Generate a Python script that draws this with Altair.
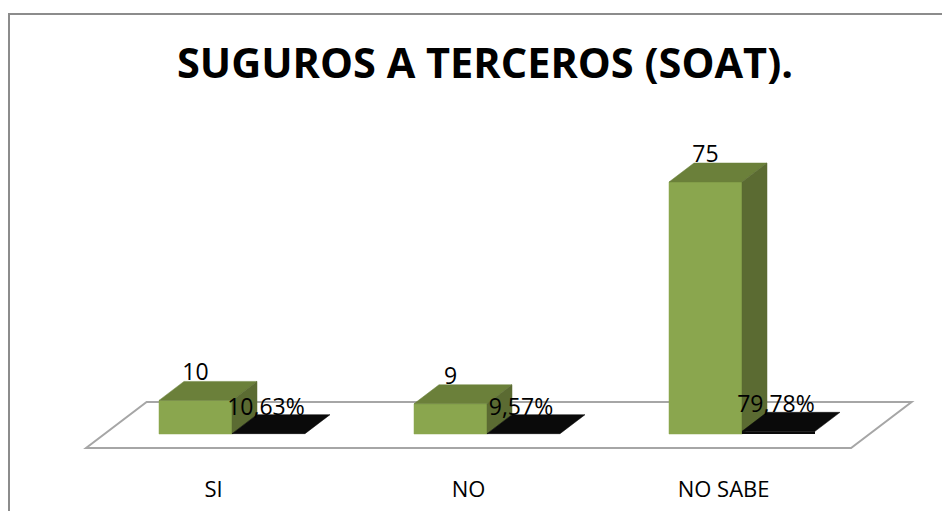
import altair as alt
import pandas as pd

# ---------------- data ----------------
categories = ["SI", "NO", "NO SABE"]
counts = [10, 9, 75]
percents = [10.63, 9.57, 79.78]
title_text = "SUGUROS A TERCEROS (SOAT)."

# ---------------- layout constants ----------------
W_PX, H_PX = 934, 503
X_UNIT_PX = 255.0      # pixels between categories
Y_VAL_PX = 3.36        # pixels per value unit
X0_PX = 224.0          # plot-px of first category centre
Y0_PX = 426.0          # plot-px of value 0

X_MIN = -X0_PX / X_UNIT_PX
X_MAX = (W_PX - X0_PX) / X_UNIT_PX
Y_MAX = Y0_PX / Y_VAL_PX
Y_MIN = (Y0_PX - H_PX) / Y_VAL_PX

BAR_W = 73 / X_UNIT_PX
DX = 25 / X_UNIT_PX
DY = 19 / Y_VAL_PX
FLOOR_FRONT = -14 / 19
FLOOR_BACK = 32 / 19
LABEL_DROP = 49 / Y_VAL_PX

GREEN_FRONT = "#8AA64E"
GREEN_TOP = "#6B803A"
GREEN_SIDE = "#5B6B32"
BLACK = "#0A0A0A"
FONT = "Open Sans"

xs = alt.Scale(domain=[X_MIN, X_MAX], nice=False, zero=False)
ys = alt.Scale(domain=[Y_MIN, Y_MAX], nice=False, zero=False)


def pts_rows(face, pts):
    return [dict(face=face, k=k, x=x, lo=lo, hi=hi) for k, (x, lo, hi) in enumerate(pts)]


def top_face(x0, x1, v):
    return [(x0, v, v), (x0 + DX, v, v + DY), (x1, v, v + DY), (x1 + DX, v + DY, v + DY)]


def side_face(x1, v):
    return [(x1, 0, v), (x1 + DX, DY, v + DY)]


# floor
fx0, fx1 = -0.5, len(categories) - 0.5
yF, yB = FLOOR_FRONT * DY, FLOOR_BACK * DY
floor_pts = [
    (fx0 + FLOOR_FRONT * DX, yF, yF),
    (fx0 + FLOOR_BACK * DX, yF, yB),
    (fx1 + FLOOR_FRONT * DX, yF, yB),
    (fx1 + FLOOR_BACK * DX, yB, yB),
]
floor_df = pd.DataFrame(pts_rows("floor", floor_pts))

front_rows, gtop_rows, gside_rows, btop_rows, bfront_rows = [], [], [], [], []
count_txt, pct_txt, cat_txt = [], [], []
for i, (cat, n, p) in enumerate(zip(categories, counts, percents)):
    c = float(i)
    ph = p / 100.0
    front_rows.append(dict(x=c - BAR_W, x2=c, y=0, y2=n))
    gtop_rows += pts_rows(f"g{i}", top_face(c - BAR_W, c, n))
    gside_rows += pts_rows(f"s{i}", side_face(c, n))
    btop_rows += pts_rows(f"b{i}", top_face(c, c + BAR_W, ph))
    bfront_rows.append(dict(x=c, x2=c + BAR_W, y=0, y2=ph))
    count_txt.append(dict(x=c - BAR_W / 2, y=n + DY, label=str(n)))
    pct_txt.append(dict(x=c + BAR_W / 2 - 0.01, y=ph + DY,
                        label=f"{p:.2f}".replace(".", ",") + "%"))
    cat_txt.append(dict(x=c + FLOOR_FRONT * DX, y=yF - LABEL_DROP, label=cat))

area_enc = dict(
    x=alt.X("x:Q", scale=xs, axis=None),
    y=alt.Y("lo:Q", scale=ys, axis=None, stack=None),
    y2=alt.Y2("hi:Q"),
    detail=alt.Detail("face:N"),
)


def area_layer(df, fill, stroke, sw):
    return alt.Chart(df).mark_area(
        orient="vertical", interpolate="linear", fill=fill, stroke=stroke, strokeWidth=sw
    ).encode(**area_enc)


floor = area_layer(floor_df, "white", "#A6A6A6", 2)
gtop = area_layer(pd.DataFrame(gtop_rows), GREEN_TOP, GREEN_TOP, 0.5)
gside = area_layer(pd.DataFrame(gside_rows), GREEN_SIDE, GREEN_SIDE, 0.5)
btop = area_layer(pd.DataFrame(btop_rows), BLACK, BLACK, 0.5)

rect_enc = dict(
    x=alt.X("x:Q", scale=xs, axis=None),
    x2="x2:Q",
    y=alt.Y("y:Q", scale=ys, axis=None),
    y2="y2:Q",
)
front = alt.Chart(pd.DataFrame(front_rows)).mark_rect(
    fill=GREEN_FRONT, stroke=GREEN_FRONT, strokeWidth=0.5
).encode(**rect_enc)
bfront = alt.Chart(pd.DataFrame(bfront_rows)).mark_rect(fill=BLACK).encode(**rect_enc)

txt_enc = dict(
    x=alt.X("x:Q", scale=xs, axis=None),
    y=alt.Y("y:Q", scale=ys, axis=None),
    text="label:N",
)
count_lbl = alt.Chart(pd.DataFrame(count_txt)).mark_text(
    font=FONT, fontSize=23, color="black", baseline="alphabetic", align="center", dy=-1
).encode(**txt_enc)
pct_lbl = alt.Chart(pd.DataFrame(pct_txt)).mark_text(
    font=FONT, fontSize=23, color="black", baseline="alphabetic", align="center", dy=0
).encode(**txt_enc)
cat_lbl = alt.Chart(pd.DataFrame(cat_txt)).mark_text(
    font=FONT, fontSize=22, color="black", baseline="alphabetic", align="center"
).encode(**txt_enc)

title = alt.Chart(pd.DataFrame({"label": [title_text]})).mark_text(
    font=FONT, fontSize=41.5, fontWeight="bold", color="black", baseline="alphabetic", align="center"
).encode(x=alt.value(477), y=alt.value(70), text="label:N")

frame_df = pd.DataFrame({"a": [0]})
frame_top = alt.Chart(frame_df).mark_rule(color="#8C8C8C", strokeWidth=2).encode(
    x=alt.value(0), x2=alt.value(W_PX), y=alt.value(6)
)
frame_left = alt.Chart(frame_df).mark_rule(color="#8C8C8C", strokeWidth=2).encode(
    x=alt.value(1), y=alt.value(6), y2=alt.value(H_PX)
)

chart = alt.layer(
    frame_top, frame_left, title,
    floor, front, gtop, gside, bfront, btop,
    count_lbl, pct_lbl, cat_lbl,
).properties(
    width=W_PX, height=H_PX,
    autosize=alt.AutoSizeParams(type="none"),
    padding=0,
    background="white",
).configure_view(stroke=None)

chart.save("out.html", embed_options={"renderer": "svg", "actions": False})
